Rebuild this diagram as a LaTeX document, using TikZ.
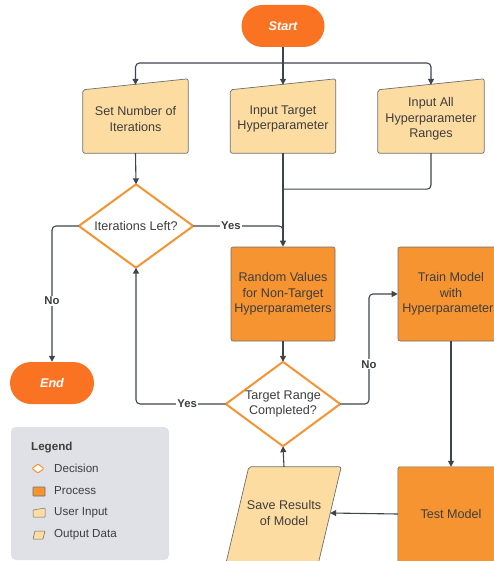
\documentclass[tikz,border=0pt]{standalone}
\usepackage{fontspec}
\setmainfont{Liberation Sans}
\usetikzlibrary{calc,arrows.meta,backgrounds}
\definecolor{startc}{RGB}{250,115,35}
\definecolor{procc}{RGB}{247,148,50}
\definecolor{inc}{RGB}{253,220,162}
\definecolor{linec}{RGB}{62,68,78}
\definecolor{txtc}{RGB}{62,62,62}
\definecolor{legc}{RGB}{223,225,230}
\definecolor{bordc}{RGB}{110,110,110}
\definecolor{decc}{RGB}{247,148,50}
\tikzset{
  every node/.style={font=\fontsize{12.6}{15.5}\selectfont, text=txtc, align=center, inner sep=0pt},
  term/.style={fill=startc, rounded corners=21, minimum width=83, minimum height=42, text=white, font=\fontsize{12.6}{15.5}\selectfont\bfseries\itshape},
  slot/.style={draw=none, fill=none},
  proc/.style={fill=procc, draw=bordc, line width=0.6pt, rounded corners=2},
  inbox/.style={fill=inc, draw=bordc, line width=0.7pt, rounded corners=2},
  decbox/.style={fill=white, draw=decc, line width=2pt, rounded corners=1},
  conn/.style={draw=linec, line width=1.1pt, rounded corners=4},
  arr/.style={conn, -{Triangle[length=6pt,width=6pt]}},
  lab/.style={fill=white, font=\fontsize{11.3}{13}\selectfont\bfseries, text=txtc, inner sep=1pt},
  legtxt/.style={font=\fontsize{11.6}{13}\selectfont, anchor=west},
}
\begin{document}
\begin{tikzpicture}[x=1pt,y=-1pt]
\useasboundingbox (0,0) rectangle (494,561);
\clip (0,0) rectangle (494,561);
% nodes
\node[term] (start) at (283,26) {Start};
\node[term, minimum width=84] (end) at (52,383) {End};
\node[slot, minimum width=105, minimum height=68] (setn) at (135.5,119) {Set Number of\\Iterations};
\node[slot, minimum width=105, minimum height=68] (tgt) at (283,119) {Input Target\\Hyperparameter};
\node[slot, minimum width=106, minimum height=68] (all) at (431,119) {Input All\\Hyperparameter\\Ranges};
\node[slot, minimum width=114, minimum height=83] (iter) at (136,226) {Iterations Left?};
\node[proc, minimum width=104, minimum height=94] (rand) at (283,294) {Random Values\\for Non-Target\\Hyperparameters};
\node[proc, minimum width=106, minimum height=94] (train) at (451,294) {Train Model\\with\\Hyperparameters};
\node[slot, minimum width=114, minimum height=84] (comp) at (283,404) {Target Range\\Completed?};
\node[slot, minimum width=106, minimum height=94] (test) at (451,514) {Test Model};
\node[slot, minimum width=92, minimum height=92] (save) at (284,513) {Save Results\\of Model};
% legend
\node[legtxt, font=\fontsize{11.6}{13}\selectfont\bfseries] (legt) at (31,448) {Legend};
\node[legtxt] (ldec) at (54,468) {Decision};
\node[legtxt] (lproc) at (54,491) {Process};
\node[legtxt] (lin) at (54,513) {User Input};
\node[legtxt] (lout) at (54,535) {Output Data};
\begin{scope}[on background layer]
  \clip (0,0) rectangle (494,561);
  \fill[legc, rounded corners=5] (11,427) rectangle (169,560);
  \path[decbox, line width=1pt] (38,464) -- (44,468.5) -- (38,473) -- (32,468.5) -- cycle;
  \path[proc, rounded corners=0.5] (33,487) rectangle (45,496);
  \path[inbox, rounded corners=0.5, line width=0.5pt] (33,517) -- (45,517) -- (45,508) -- (33,510) -- cycle;
  \path[inbox, rounded corners=0.5, line width=0.5pt] (35,531) -- (45,531) -- (43,539) -- (33,539) -- cycle;
  \path[inbox] (setn.south west) -- (setn.south east) -- ($(setn.north east)+(0,-6)$) -- ($(setn.north west)+(0,5)$) -- cycle;
  \path[inbox] (tgt.south west) -- (tgt.south east) -- ($(tgt.north east)+(0,-6)$) -- ($(tgt.north west)+(0,5)$) -- cycle;
  \path[inbox] (all.south west) -- (all.south east) -- ($(all.north east)+(0,-6)$) -- ($(all.north west)+(0,5)$) -- cycle;
  \path[decbox] (iter.north) -- (iter.east) -- (iter.south) -- (iter.west) -- cycle;
  \path[decbox] (comp.north) -- (comp.east) -- (comp.south) -- (comp.west) -- cycle;
  \path[proc] (test.north west) rectangle ($(test.south east)+(0,20)$);
  \path[inbox] ($(save.north west)+(11,0)$) -- ($(save.north east)+(11,0)$) -- ($(save.south east)+(-18,30)$) -- ($(save.south west)+(-18,30)$) -- cycle;
\end{scope}
% connectors
\coordinate (split) at (283,63);
\draw[conn] (start.south) -- (split);
\draw[arr] (split) -| (setn.north);
\draw[arr] (split) -| (all.north);
\draw[arr] (split) -- (tgt.north);
\draw[arr] (setn.south) -- (iter.north);
\draw[arr] (tgt.south) -- (rand.north);
\draw[conn] (all.south) |- ($(tgt.south)+(0,36)$);
\draw[conn] (iter.east) -| ($(rand.north)+(0,-8)$);
\node[lab] (yes1) at ($(iter.east)!0.42!(iter.east -| rand.north)$) {Yes};
\draw[arr] (rand.south) -- (comp.north);
\coordinate (nob) at ($(comp.east)!0.5!(comp.east -| train.west)$);
\draw[arr] (comp.east) -- (nob) |- (train.west);
\node[lab] (no1) at ($(nob)!0.36!(nob |- train.west)$) {No};
\draw[arr] (comp.west) -| (iter.south);
\node[lab] (yes2) at ($(comp.west)!0.43!(comp.west -| iter.south)$) {Yes};
\draw[arr] (iter.west) -| (end.north);
\node[lab] (no2) at ($(iter.west -| end.north)!0.55!(end.north)$) {No};
\draw[arr] (train.south) -- (test.north);
\draw[arr] (test.west) -- (save.east);
\draw[arr] (save.north) -- (comp.south);
\end{tikzpicture}
\end{document}
